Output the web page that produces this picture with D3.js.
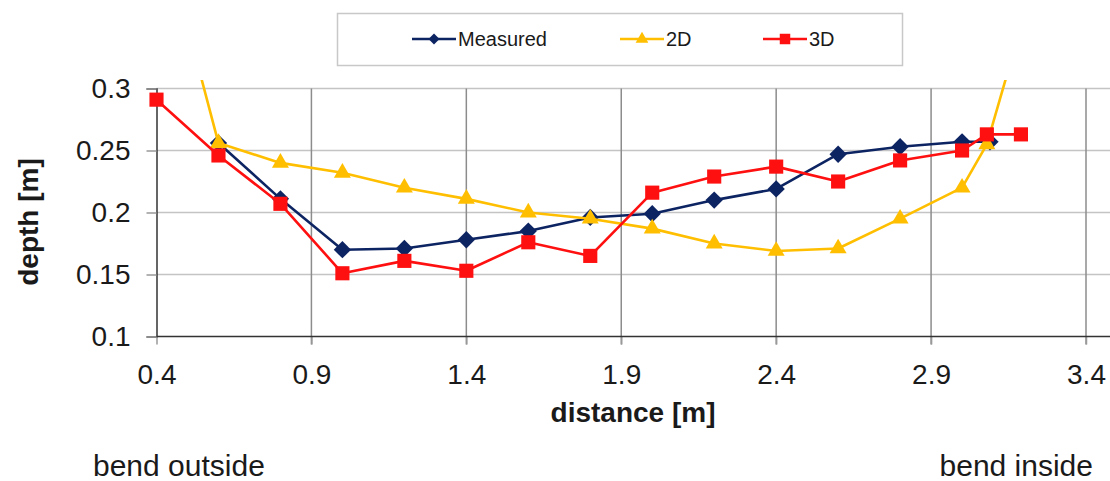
<!DOCTYPE html>
<meta charset="utf-8">
<title>depth profile</title>
<style>
body {
  margin: 0;
  background: #fff;
}
text {
  font-family: "Liberation Sans", Arial, sans-serif;
  fill: #1a1a1a;
}
.grid-h line {
  stroke: #c4c4c4;
  stroke-width: 1.5px;
}
.grid-v line {
  stroke: #8c8c8c;
  stroke-width: 1.5px;
}
.series path.line {
  fill: none;
  stroke-width: 2.6px;
  stroke-linejoin: round;
}
</style>
<svg></svg>
<script src="https://cdn.jsdelivr.net/npm/d3@7"></script>
<script>
// measured bed profile
var distMeasured = [0.6, 0.8, 1.0, 1.2, 1.4, 1.6, 1.8, 2.0, 2.2, 2.4, 2.6, 2.8, 3.0, 3.09];
var depthMeasured = [0.256, 0.211, 0.170, 0.171, 0.178, 0.185, 0.196, 0.199, 0.210, 0.219, 0.247, 0.253, 0.257, 0.257];
// 2D model
var dist2D = [0.4, 0.6, 0.8, 1.0, 1.2, 1.4, 1.6, 1.8, 2.0, 2.2, 2.4, 2.6, 2.8, 3.0, 3.08, 3.19];
var depth2D = [0.445, 0.256, 0.240, 0.232, 0.220, 0.211, 0.200, 0.195, 0.187, 0.175, 0.169, 0.171, 0.195, 0.220, 0.255, 0.350];
// 3D model
var dist3D = [0.4, 0.6, 0.8, 1.0, 1.2, 1.4, 1.6, 1.8, 2.0, 2.2, 2.4, 2.6, 2.8, 3.0, 3.08, 3.19];
var depth3D = [0.291, 0.246, 0.207, 0.151, 0.161, 0.153, 0.176, 0.165, 0.216, 0.229, 0.237, 0.225, 0.242, 0.250, 0.263, 0.263];

var xTicks = [0.4, 0.9, 1.4, 1.9, 2.4, 2.9, 3.4];
var yTicks = [0.1, 0.15, 0.2, 0.25, 0.3];

var width = 1110, height = 481;
var svg = d3.select("svg")
    .attr("width", width)
    .attr("height", height);

var x = d3.scaleLinear().domain([0.4, 3.4]).range([156.5, 1086]);
var y = d3.scaleLinear().domain([0.1, 0.3]).range([336.5, 88.5]);
var plotRight = 1110;

var series = [
  {name: "Measured", xs: distMeasured, ys: depthMeasured, color: "#0d2463", shape: "diamond"},
  {name: "2D", xs: dist2D, ys: depth2D, color: "#ffbf00", shape: "triangle"},
  {name: "3D", xs: dist3D, ys: depth3D, color: "#ff1010", shape: "square"}
];

function marker(shape) {
  if (shape == "diamond") return d3.symbol().type(d3.symbolSquare).size(150)();
  if (shape == "triangle") return d3.symbol().type(d3.symbolTriangle).size(125)();
  return d3.symbol().type(d3.symbolSquare).size(200)();
}

// gridlines
svg.append("g").attr("class", "grid-h")
  .selectAll("line").data(yTicks.filter(function(d) { return d > 0.1; }))
  .enter().append("line")
    .attr("x1", x(0.4)).attr("x2", plotRight)
    .attr("y1", function(d) { return y(d); })
    .attr("y2", function(d) { return y(d); });

svg.append("g").attr("class", "grid-v")
  .selectAll("line").data(xTicks.slice(1))
  .enter().append("line")
    .attr("x1", function(d) { return x(d); })
    .attr("x2", function(d) { return x(d); })
    .attr("y1", y(0.3)).attr("y2", y(0.1) + 8);

// axes
var yAxis = d3.axisLeft(y).tickValues(yTicks).tickSize(10).tickPadding(8)
    .tickFormat(function(d) { return String(+d.toFixed(2)); });
var gy = svg.append("g").attr("transform", "translate(" + x(0.4) + ",0)").call(yAxis);
gy.select(".domain").attr("stroke", "#333").attr("stroke-width", 1.5);
gy.selectAll(".tick line").attr("stroke", "#999").attr("stroke-width", 1.5);
gy.selectAll(".tick text").style("font-size", "28px").attr("fill", "#1a1a1a")
    .attr("x", -26);

var xAxis = d3.axisBottom(x).tickValues(xTicks).tickSize(8).tickPadding(20)
    .tickFormat(d3.format(".1f"));
var gx = svg.append("g").attr("transform", "translate(0," + y(0.1) + ")").call(xAxis);
gx.select(".domain").remove();
gx.append("line").attr("x1", x(0.4)).attr("x2", plotRight)
    .attr("stroke", "#333").attr("stroke-width", 1.5);
gx.selectAll(".tick line").attr("stroke", "#999").attr("stroke-width", 1.5);
gx.selectAll(".tick text").style("font-size", "28px").attr("fill", "#1a1a1a");

// axis titles
svg.append("text")
    .attr("x", 633).attr("y", 422)
    .attr("text-anchor", "middle")
    .style("font-size", "28px").style("font-weight", "bold")
    .text("distance [m]");
svg.append("text")
    .attr("transform", "translate(38,222) rotate(-90)")
    .attr("text-anchor", "middle")
    .style("font-size", "28px").style("font-weight", "bold")
    .text("depth [m]");

svg.append("text").attr("x", 93).attr("y", 476)
    .style("font-size", "30px").text("bend outside");
svg.append("text").attr("x", 1093).attr("y", 476).attr("text-anchor", "end")
    .style("font-size", "30px").text("bend inside");

// series
svg.append("clipPath").attr("id", "clip")
  .append("rect").attr("x", 140).attr("y", 80).attr("width", 980).attr("height", 270);

var line = d3.line()
    .x(function(d) { return x(d[0]); })
    .y(function(d) { return y(d[1]); });

var gs = svg.append("g").attr("clip-path", "url(#clip)")
  .selectAll("g").data(series).enter().append("g").attr("class", "series");

gs.append("path").attr("class", "line")
    .attr("stroke", function(s) { return s.color; })
    .attr("d", function(s) { return line(d3.zip(s.xs, s.ys)); });

gs.each(function(s) {
  d3.select(this).selectAll("path.mk").data(d3.zip(s.xs, s.ys))
    .enter().append("path").attr("class", "mk")
      .attr("d", marker(s.shape))
      .attr("fill", s.color)
      .attr("transform", function(d) {
        return "translate(" + x(d[0]) + "," + y(d[1]) + ")" + (s.shape == "diamond" ? " rotate(45)" : "");
      });
});

// legend
var legend = svg.append("g");
legend.append("rect")
    .attr("x", 337.5).attr("y", 13.5).attr("width", 565).attr("height", 52)
    .attr("fill", "#fff").attr("stroke", "#c8c8c8").attr("stroke-width", 1.5);
var legendX = [412, 620, 763];
var li = legend.selectAll("g.item").data(series).enter().append("g")
    .attr("class", "item")
    .attr("transform", function(s, i) { return "translate(" + legendX[i] + ",39)"; });
li.append("line").attr("x1", 0).attr("x2", 44)
    .attr("stroke", function(s) { return s.color; }).attr("stroke-width", 2.6);
li.append("path")
    .attr("d", function(s) {
      if (s.shape == "diamond") return d3.symbol().type(d3.symbolSquare).size(60)();
      if (s.shape == "triangle") return d3.symbol().type(d3.symbolTriangle).size(70)();
      return d3.symbol().type(d3.symbolSquare).size(110)();
    })
    .attr("fill", function(s) { return s.color; })
    .attr("transform", function(s) { return "translate(22,0)" + (s.shape == "diamond" ? " rotate(45)" : ""); });
li.append("text").attr("x", 46).attr("dy", "0.35em")
    .style("font-size", "20px")
    .text(function(s) { return s.name; });
</script>
